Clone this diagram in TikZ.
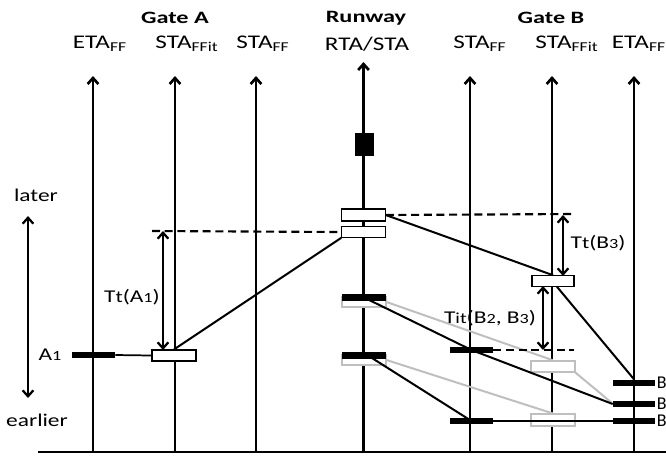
\documentclass[tikz,border=0pt]{standalone}
\usepackage{fontspec}
\setmainfont{Carlito}
\usetikzlibrary{arrows.meta}
\newcommand\hs[1]{\scalebox{1.3}[1]{#1}}
\newcommand\sm[1]{{\fontsize{10.5}{12}\selectfont #1}}
\begin{document}
\begin{tikzpicture}[x=0.75pt,y=-0.75pt,
  axis/.style={line width=2.1pt,-{Straight Barb[length=4.5pt,width=8pt,line width=2pt]}},
  dbl/.style={line width=1.7pt,{Straight Barb[length=4.5pt,width=8pt,line width=1.7pt]}-{Straight Barb[length=4.5pt,width=8pt,line width=1.7pt]}},
  dsh/.style={line width=1.6pt,dash pattern=on 6pt off 3.5pt},
  conn/.style={line width=1.5pt,black},
  gconn/.style={line width=1.5pt,black!25},
  blk/.style={fill=black,draw=none,minimum width=32.5pt,minimum height=5.2pt,inner sep=0pt},
  wbox/.style={fill=white,draw=black,line width=0.9pt,minimum width=32.5pt,minimum height=7.8pt,inner sep=0pt},
  gbox/.style={fill=white,draw=black!25,line width=1.3pt,minimum width=32.5pt,minimum height=8pt,inner sep=0pt},
  ttl/.style={font=\fontsize{13}{15}\selectfont\bfseries,inner sep=0pt},
  lbl/.style={font=\fontsize{14.5}{16}\selectfont,inner sep=0pt},
  txt/.style={font=\fontsize{13.5}{16}\selectfont,inner sep=0pt}]
\useasboundingbox (0,0) rectangle (666,455);
% axes
\foreach \n/\x/\t in {a1/93/76,a2/175/76,a3/256/76,r/363.5/62,b1/470/76,b2/552/76,b3/634/76}{
  \coordinate (\n b) at (\x,452);
  \coordinate (\n t) at (\x,\t);
  \draw[axis] (\n b) -- (\n t);
}
\coordinate (bl) at (38,452);
\coordinate (br) at (666,452);
\draw[line width=2.2pt] (bl) -- (br);
% titles
\node[ttl] (tA) at (175,18) {\scalebox{1.4}[1]{Gate A}};
\node[ttl] (tR) at (366,18) {\scalebox{1.4}[1]{Runway}};
\node[ttl] (tB) at (551,18) {\scalebox{1.4}[1]{Gate B}};
\node[lbl] (l1) at (100,44) {\hs{ETA\textsubscript{FF}}};
\node[lbl] (l2) at (187,44) {\hs{STA\textsubscript{FFit}}};
\node[lbl] (l3) at (263,44) {\hs{STA\textsubscript{FF}}};
\node[lbl] (l4) at (367,44) {\hs{RTA/STA}};
\node[lbl] (l5) at (480,44) {\hs{STA\textsubscript{FF}}};
\node[lbl] (l6) at (567,44) {\hs{STA\textsubscript{FFit}}};
\node[lbl] (l7) at (639,44) {\hs{ETA\textsubscript{FF}}};
% left arrow
\node[txt] (later) at (36,195) {\hs{later}};
\node[txt] (earlier) at (37,420) {\hs{earlier}};
\coordinate (lu) at (28,216);
\coordinate (ld) at (28,398);
\draw[dbl] (lu) -- (ld);
\node[txt] (A1) at (50,355) {\hs{A\sm{1}}};
% gray shapes and lines
\node[gbox] (rg1) at (364,302) {};
\node[gbox] (rg2) at (364,360) {};
\node[gbox] (bg1) at (553,366.5) {};
\node[gbox,minimum height=8.5pt] (bg2) at (553,420) {};
\draw[gconn] (rg1.east) -- (bg1.north);
\draw[gconn] (bg1.south east) -- (612,403) coordinate (g2end);
\draw[gconn] (rg2.east) -- (bg2.north);
\node[gbox] (bg1b) at (553,366.5) {};
% bars
\node[blk] (ablk) at (93.5,355) {};
\node[wbox,minimum width=33pt,minimum height=8.2pt] (abox) at (174,355.5) {};
\node[blk,minimum width=14.5pt,minimum height=17pt] (rsq) at (364.5,144.5) {};
\node[wbox,minimum height=9pt] (ru) at (363.5,215) {};
\node[wbox] (rl) at (363.5,232) {};
\node[blk] (rb1) at (364,297.5) {};
\node[blk] (rb2) at (364,355.5) {};
\node[blk] (bs1) at (471.5,350) {};
\node[blk] (bs2) at (471.5,421) {};
\node[wbox,minimum width=31.5pt] (bw) at (553,281) {};
\node[blk,minimum width=31.5pt] (be1) at (634,383) {};
\node[blk,minimum width=31.5pt] (be2) at (634,404) {};
\node[blk,minimum width=31.5pt] (be3) at (634,421) {};
% black connectors
\draw[conn,line width=1.3pt] (ablk.east) -- (abox.west);
\draw[conn] (abox.north) -- (rl.south west);
\draw[conn] (ru.east) -- (bw.north);
\draw[conn] ([xshift=3pt]bw.south) -- (be1.north);
\draw[conn] (rb1.center) -- (bs1.center) -- (be2.west);
\draw[conn] ([xshift=3pt]rb2.center) -- (bs2.center);
\draw[conn] (bs2.east) -- (be3.west);
% dashed
\coordinate (dA) at (152,231);
\draw[dsh] (dA) -- (rl.west);
\coordinate (dB) at (574,214);
\draw[dsh] (ru.east) -- (dB);
\coordinate (dC) at (574,350);
\draw[dsh] (bs1.east) -- (dC);
% measure arrows
\coordinate (ta1) at (163,231);
\coordinate (ta2) at (163,350);
\draw[dbl] (ta1) -- (ta2);
\node[txt] (TtA) at (132,297) {\hs{T{\fontsize{12.5}{14}\selectfont t}(A\sm{1})}};
\coordinate (tb1) at (563,215);
\coordinate (tb2) at (563,276);
\draw[dbl] (tb1) -- (tb2);
\node[txt] (TtB) at (598,243) {\hs{T{\fontsize{12.5}{14}\selectfont t}(B\sm{3})}};
\coordinate (tc1) at (543,286);
\coordinate (tc2) at (543,350);
\draw[dbl] (tc1) -- (tc2);
\node[txt] (TitB) at (490,318) {\hs{T{\fontsize{11.5}{14}\selectfont it}(B\sm{2}, B\sm{3})}};
% B labels
\node[txt,anchor=west] (B3) at (656.5,383) {B};
\node[txt,anchor=west] (B2) at (656.5,404) {B};
\node[txt,anchor=west] (B1) at (656.5,421) {B};
\end{tikzpicture}
\end{document}
